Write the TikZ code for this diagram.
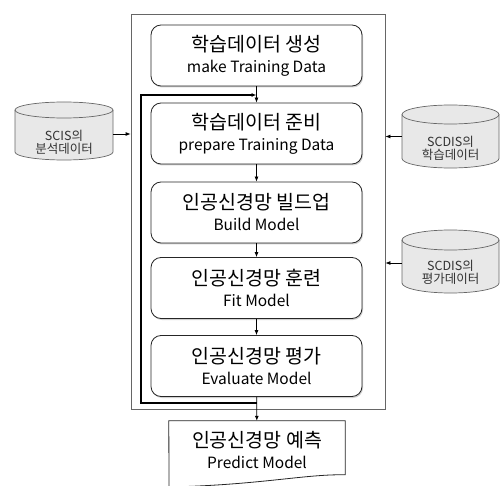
\documentclass[tikz,border=0pt]{standalone}
\usepackage{fontspec}
\setmainfont{Noto Sans CJK KR}
\usetikzlibrary{arrows.meta,shadows,calc}
\newcommand\engline[1]{{\fontsize{15.5}{17}\selectfont #1}}
\newcommand\mkcyl[6]{% name, cx, cy, half width, half height, ellipse ry
  \node[inner sep=0pt, minimum width=2*#4, minimum height=2*#5] (#1) at (#2,#3) {};
  \draw[cylst] (#2-#4,#3+#5-#6) -- (#2-#4,#3-#5+#6)
     arc[start angle=180, end angle=360, x radius=#4, y radius=#6]
     -- (#2+#4,#3+#5-#6)
     arc[start angle=0, end angle=180, x radius=#4, y radius=#6] -- cycle;
  \draw[cylst, fill=none] (#2-#4,#3+#5-#6) arc[start angle=180, end angle=360, x radius=#4, y radius=#6];
}
\begin{document}
\begin{tikzpicture}[x=1pt,y=1pt,
  stepbox/.style={draw=black!85, line width=0.8pt, rounded corners=10pt, fill=white,
    minimum width=211pt, minimum height=61pt, align=center, inner sep=0pt,
    font=\fontsize{19.5}{21}\selectfont,
    drop shadow={opacity=0.3, shadow xshift=1pt, shadow yshift=-1.5pt, fill=black!60}},
  framebox/.style={draw=black!60, line width=0.8pt, inner sep=0pt},
  arr/.style={-{Latex[length=5pt,width=4pt]}, line width=0.8pt},
  loopline/.style={-{Latex[length=5pt,width=4pt]}, line width=1.3pt},
  cylst/.style={draw=black!60, fill=black!9, line width=0.7pt},
  cyltext/.style={align=center, inner sep=0pt, text=black!80, font=\fontsize{12.5}{13.5}\selectfont},
  docbox/.style={inner sep=0pt, minimum width=176pt, minimum height=58pt, align=center,
    font=\fontsize{19.5}{21}\selectfont},
  docst/.style={draw=black!85, line width=0.8pt, fill=white}]
\useasboundingbox (0,0) rectangle (500,485);

% outer frame
\node[framebox, minimum width=254pt, minimum height=395pt] (outer) at (258,273.5) {};

% steps
\node[stepbox] (b1) at (256.5,429.5) {학습데이터 생성\\\engline{make Training Data}};
\node[stepbox] (b2) at (256.5,351.5) {학습데이터 준비\\\engline{prepare Training Data}};
\node[stepbox] (b3) at (256.5,272.5) {인공신경망 빌드업\\\engline{Build Model}};
\node[stepbox] (b4) at (256.5,197) {인공신경망 훈련\\\engline{Fit Model}};
\node[stepbox] (b5) at (256.5,119) {인공신경망 평가\\\engline{Evaluate Model}};

% predict (document shape)
\node[docbox] (predshape) at (257,35) {};
\draw[docst] (predshape.north west) -- (predshape.north east) -- ($(predshape.north east)+(0,-54)$)
   .. controls (305,11) and (260,0) .. (169,-2) -- cycle;
\node[docbox] (pred) at (257,35) {인공신경망 예측\\\engline{Predict Model}};

% connectors between steps
\draw[arr] (b1) -- (b2);
\draw[arr] (b2) -- (b3);
\draw[arr] (b3) -- (b4);
\draw[arr] (b4) -- (b5);
\draw[arr] (b5) -- (pred);

% loop back
\coordinate (lb) at (b5.south |- 0,82);
\coordinate (lt) at (b1.south |- 0,390);
\draw[loopline] (lb) -- (141,82) |- (lt);

% data stores
\mkcyl{cylL}{64}{354}{49}{29}{8}
\node[cyltext] (cylLt) at (64,342.5) {SCIS의\\분석데이터};
\mkcyl{cylR1}{450.5}{348.5}{48.5}{31.5}{9.5}
\node[cyltext] (cylR1t) at (450.5,336.5) {SCDIS의\\학습데이터};
\mkcyl{cylR2}{450.5}{223.5}{48.5}{31.5}{10}
\node[cyltext] (cylR2t) at (450.5,212.5) {SCDIS의\\평가데이터};

\draw[arr] ([yshift=-3pt]cylL.east) -- ([yshift=-3pt]cylL.east -| outer.west);
\draw[arr] (cylR1.west) -- (cylR1.west -| outer.east);
\draw[arr] ([yshift=-1.5pt]cylR2.west) -- ([yshift=-1.5pt]cylR2.west -| outer.east);
\end{tikzpicture}
\end{document}
